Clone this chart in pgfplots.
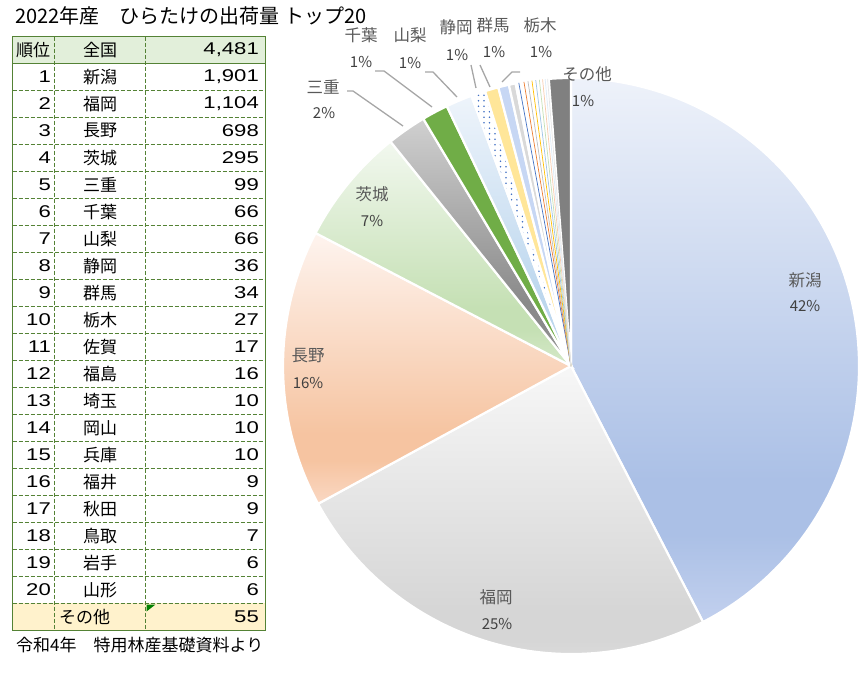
\documentclass[border=0pt]{standalone}
\usepackage{fontspec}
\setmainfont{Noto Sans CJK JP}
\newfontfamily\numfont[FakeStretch=1.3]{Liberation Sans}
\usepackage{pgfplots}
\pgfplotsset{compat=1.18}
\usepackage{pgfplotstable}
\usetikzlibrary{patterns.meta}

% colours
\definecolor{tgreen}{HTML}{548235}
\definecolor{hdrfill}{HTML}{E2EFDA}
\definecolor{othfill}{HTML}{FFF2CC}
\definecolor{lblgray}{HTML}{595959}
\definecolor{pctgray}{HTML}{404040}
\definecolor{leader}{HTML}{A6A6A6}
\definecolor{flag}{HTML}{008000}
\definecolor{nit}{HTML}{EEF2FA}\definecolor{nim}{HTML}{ABC0E6}\definecolor{nib}{HTML}{C2D0EE}
\definecolor{fut}{HTML}{F7F7F7}\definecolor{fum}{HTML}{D6D6D6}\definecolor{fub}{HTML}{E6E6E6}
\definecolor{nat}{HTML}{FEF4EF}\definecolor{nam}{HTML}{F6C4A1}\definecolor{nab}{HTML}{FAD8C3}
\definecolor{ibt}{HTML}{F2F8EF}\definecolor{ibm}{HTML}{C5E0B4}\definecolor{ibb}{HTML}{D5E9C9}
\definecolor{mit}{HTML}{D0D0D0}\definecolor{mim}{HTML}{8A8A8A}\definecolor{mib}{HTML}{A0A0A0}
\definecolor{yat}{HTML}{EEF4FB}\definecolor{yam}{HTML}{BDD7EE}\definecolor{yab}{HTML}{D0E2F3}
\definecolor{chiba}{HTML}{70AD47}
\definecolor{dotblue}{HTML}{4472C4}
\definecolor{gunma}{HTML}{FFE699}
\definecolor{tochigi}{HTML}{C7D7F4}
\definecolor{saga}{HTML}{D9D9D9}
\definecolor{others}{HTML}{808080}
\definecolor{st12}{HTML}{ED7D31}\definecolor{st13}{HTML}{BEBEBE}\definecolor{st14}{HTML}{FFC000}
\definecolor{st15}{HTML}{9DC3E6}\definecolor{st16}{HTML}{C5E0B4}\definecolor{st17}{HTML}{F8CBAD}
\definecolor{st18}{HTML}{DDEBF7}\definecolor{st19}{HTML}{E7E6E6}

\pgfdeclareverticalshading{niigata}{100bp}{color(0bp)=(nib); color(25bp)=(nib); color(33bp)=(nim); color(38bp)=(nim); color(75bp)=(nit); color(100bp)=(nit)}
\pgfdeclareverticalshading{fukuoka}{100bp}{color(0bp)=(fub); color(25bp)=(fub); color(33bp)=(fum); color(38bp)=(fum); color(75bp)=(fut); color(100bp)=(fut)}
\pgfdeclareverticalshading{nagano}{100bp}{color(0bp)=(nab); color(25bp)=(nab); color(33bp)=(nam); color(38bp)=(nam); color(75bp)=(nat); color(100bp)=(nat)}
\pgfdeclareverticalshading{ibaraki}{100bp}{color(0bp)=(ibb); color(25bp)=(ibb); color(33bp)=(ibm); color(38bp)=(ibm); color(75bp)=(ibt); color(100bp)=(ibt)}
\pgfdeclareverticalshading{mie}{100bp}{color(0bp)=(mib); color(25bp)=(mib); color(33bp)=(mim); color(38bp)=(mim); color(75bp)=(mit); color(100bp)=(mit)}
\pgfdeclareverticalshading{yamanashi}{100bp}{color(0bp)=(yab); color(25bp)=(yab); color(33bp)=(yam); color(38bp)=(yam); color(75bp)=(yat); color(100bp)=(yat)}

\tikzset{
  slice0/.style={shade, shading=niigata},
  slice1/.style={shade, shading=fukuoka},
  slice2/.style={shade, shading=nagano},
  slice3/.style={shade, shading=ibaraki},
  slice4/.style={shade, shading=mie},
  slice5/.style={fill=chiba},
  slice6/.style={shade, shading=yamanashi},
  slice7/.style={pattern={Dots[distance=5.5bp, radius=0.9bp]}, pattern color=dotblue},
  slice8/.style={fill=gunma},
  slice9/.style={fill=tochigi},
  slice10/.style={fill=saga},
  slice11/.style={fill=white}, slice12/.style={fill=white}, slice13/.style={fill=white},
  slice14/.style={fill=white}, slice15/.style={fill=white}, slice16/.style={fill=white},
  slice17/.style={fill=white}, slice18/.style={fill=white}, slice19/.style={fill=white},
  slice20/.style={fill=others},
  stripe11/.style={draw=dotblue}, stripe12/.style={draw=st12},
  stripe13/.style={draw=st13}, stripe14/.style={draw=st14},
  stripe15/.style={draw=st15}, stripe16/.style={draw=st16},
  stripe17/.style={draw=st17}, stripe18/.style={draw=st18},
  stripe19/.style={draw=st19},
  lbl/.style={inner sep=0pt, text=lblgray, font=\fontsize{16.5bp}{19bp}\selectfont},
  pct/.style={inner sep=0pt, text=pctgray, font=\fontsize{15bp}{18bp}\selectfont},
  tbl/.style={inner sep=0pt, font=\fontsize{17bp}{20bp}\selectfont},
  num/.style={inner sep=0pt, font=\fontsize{17bp}{20bp}\numfont},
  lead/.style={draw=leader, line width=1.3bp},
}

% 2022 ひらたけ出荷量（トン）
\pgfplotstableread{
name val
新潟 1901
福岡 1104
長野 698
茨城 295
三重 99
千葉 66
山梨 66
静岡 36
群馬 34
栃木 27
佐賀 17
福島 16
埼玉 10
岡山 10
兵庫 10
福井 9
秋田 9
鳥取 7
岩手 6
山形 6
その他 55
}\hiratake

\begin{document}
\begin{tikzpicture}
% slice angles from the table (clockwise from 12 o'clock)
\pgfplotstablegetrowsof{\hiratake}
\pgfmathtruncatemacro\lastrow{\pgfplotsretval-1}
\def\total{0}
\pgfplotsforeachungrouped \i in {0,...,\lastrow}{%
  \pgfplotstablegetelem{\i}{val}\of\hiratake
  \pgfmathsetmacro\total{\total+\pgfplotsretval}%
}
\def\acc{0}
\pgfplotsforeachungrouped \i in {0,...,\lastrow}{%
  \pgfplotstablegetelem{\i}{val}\of\hiratake
  \pgfmathsetmacro\a{90-(\acc/\total)*360}%
  \pgfmathsetmacro\acc{\acc+\pgfplotsretval}%
  \pgfmathsetmacro\b{90-(\acc/\total)*360}%
  \pgfmathsetmacro\m{(\a+\b)/2}%
  \pgfmathsetmacro\sx{cos(\a)}\pgfmathsetmacro\sy{sin(\a)}%
  \pgfmathsetmacro\mx{cos(\m)}\pgfmathsetmacro\my{sin(\m)}%
  \expandafter\xdef\csname sa\i\endcsname{\a}%
  \expandafter\xdef\csname sb\i\endcsname{\b}%
  \expandafter\xdef\csname sx\i\endcsname{\sx}%
  \expandafter\xdef\csname sy\i\endcsname{\sy}%
  \expandafter\xdef\csname mx\i\endcsname{\mx}%
  \expandafter\xdef\csname my\i\endcsname{\my}%
}

\begin{scope}[x=1bp, y=-1bp]
\path[use as bounding box] (0,0) rectangle (868,665);
\end{scope}

\begin{axis}[
  at={(571bp,-366bp)}, anchor=center,
  width=576bp, height=576bp, scale only axis,
  xmin=-1, xmax=1, ymin=-1, ymax=1,
  hide axis, clip=false,
]
\pgfplotsinvokeforeach{0,...,20}{%
  \edef\doslice{\noexpand\path[slice#1, draw=white, line width=2.2bp]
    (axis cs:0,0) -- (axis cs:\csname sx#1\endcsname,\csname sy#1\endcsname)
    arc[start angle=\csname sa#1\endcsname, end angle=\csname sb#1\endcsname, radius=288bp] -- cycle;}%
  \doslice
}
\pgfplotsinvokeforeach{11,...,19}{%
  \edef\dostripe{\noexpand\draw[stripe#1, line width=0.7bp]
    (axis cs:0,0) -- (axis cs:\csname mx#1\endcsname,\csname my#1\endcsname);}%
  \dostripe
}
\end{axis}

\begin{scope}[x=1bp, y=-1bp]
% title and source
\node[anchor=base west, inner sep=0pt, font=\fontsize{20bp}{23bp}\selectfont] at (15,23.3) {2022年産　ひらたけの出荷量 トップ20};
\node[anchor=base west, inner sep=0pt, font=\fontsize{17bp}{20bp}\selectfont] at (16,651) {令和4年　特用林産基礎資料より};

% table
\fill[hdrfill] (12.5,36.7) rectangle (265.5,63.3);
\fill[othfill] (12.5,603.3) rectangle (265.5,630.3);
\foreach \k in {1,...,20} {
  \draw[tgreen, line width=1bp, dash pattern=on 4bp off 2bp] (12.5,63.3+27*\k) -- (265.5,63.3+27*\k);
}
\draw[tgreen, line width=1bp, dash pattern=on 4bp off 2bp] (54.3,36.7) -- (54.3,630.3);
\draw[tgreen, line width=1bp, dash pattern=on 4bp off 2bp] (145.7,36.7) -- (145.7,630.3);
\draw[tgreen, line width=1.5bp] (12.5,63.3) -- (265.5,63.3);
\draw[tgreen, line width=1.5bp] (12.5,36.7) rectangle (265.5,630.3);
\fill[flag] (146.5,604.5) -- (155.5,604.5) -- (146.5,611.5) -- cycle;

\node[tbl] at (33,50) {順位};
\node[tbl] at (100,50) {全国};
\node[num, anchor=east] at (259,50) {4,481};
\foreach \r/\n/\v [count=\k] in {1/新潟/{1,901},2/福岡/{1,104},3/長野/698,4/茨城/295,5/三重/99,
  6/千葉/66,7/山梨/66,8/静岡/36,9/群馬/34,10/栃木/27,11/佐賀/17,12/福島/16,13/埼玉/10,
  14/岡山/10,15/兵庫/10,16/福井/9,17/秋田/9,18/鳥取/7,19/岩手/6,20/山形/6} {
  \node[num, anchor=east] at (51,49.8+27*\k) {\r};
  \node[tbl] at (100,49.8+27*\k) {\n};
  \node[num, anchor=east] at (259,49.8+27*\k) {\v};
}
\node[tbl, anchor=west] at (59,617) {その他};
\node[num, anchor=east] at (259,617) {55};

% leader lines
\draw[lead] (347,91) -- (353,91) -- (403,126);
\draw[lead] (375,71) -- (384,71) -- (432,107);
\draw[lead] (425,72) -- (433,72) -- (457,97);
\draw[lead] (471,65) -- (476,88);
\draw[lead] (480,65) -- (490,87);
\draw[lead] (520,72) -- (512,72) -- (502,82);

% slice labels
\node[lbl] at (805,280) {新潟}; \node[pct] at (805,306) {42\%};
\node[lbl] at (496,597) {福岡}; \node[pct] at (497,624) {25\%};
\node[lbl] at (308,356) {長野}; \node[pct] at (308,383) {16\%};
\node[lbl] at (372,194) {茨城}; \node[pct] at (372,221) {7\%};
\node[lbl] at (323,87) {三重}; \node[pct] at (324,113) {2\%};
\node[lbl] at (361,35) {千葉}; \node[pct] at (361,62) {1\%};
\node[lbl] at (410,35) {山梨}; \node[pct] at (410,63) {1\%};
\node[lbl] at (456,27) {静岡}; \node[pct] at (457,55) {1\%};
\node[lbl] at (493,25) {群馬}; \node[pct] at (494,52) {1\%};
\node[lbl] at (540,25) {栃木}; \node[pct] at (541,52) {1\%};
\node[lbl] at (587,74) {その他}; \node[pct] at (583,101) {1\%};
\end{scope}
\end{tikzpicture}
\end{document}
